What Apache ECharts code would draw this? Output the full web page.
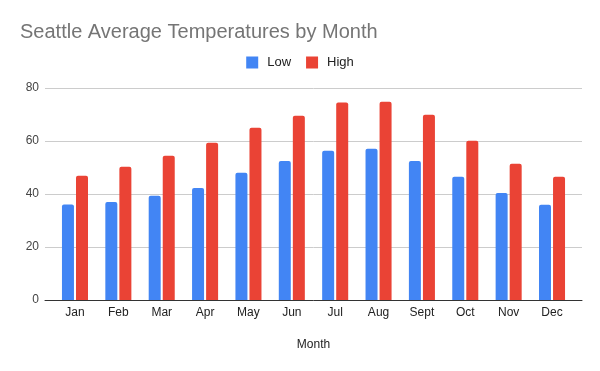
<!DOCTYPE html>
<html>
<head>
<meta charset="utf-8">
<script src="https://cdn.jsdelivr.net/npm/echarts@6/dist/echarts.min.js"></script>
<style>html,body{margin:0;padding:0;background:#fff}#c{width:600px;height:371px}</style>
</head>
<body>
<div id="c"></div>
<script>
const months = ['Jan','Feb','Mar','Apr','May','Jun','Jul','Aug','Sept','Oct','Nov','Dec'];
const lowTemps = [36, 37, 39.3, 42.3, 48, 52.5, 56.3, 57.1, 52.5, 46.5, 40.4, 35.9];
const highTemps = [46.9, 50.3, 54.4, 59.3, 65, 69.5, 74.5, 74.8, 69.9, 60.1, 51.4, 46.5];
const yTicks = {min: 0, max: 80, interval: 20};

const chart = echarts.init(document.getElementById('c'), null, {renderer: 'canvas'});
const font = 'Liberation Sans, Arial, sans-serif';
chart.setOption({
  animation: false,
  backgroundColor: '#fff',
  textStyle: {fontFamily: font},
  title: {
    text: 'Seattle Average Temperatures by Month',
    left: 15, top: 17,
    textStyle: {fontFamily: font, fontSize: 20, fontWeight: 'normal', color: '#757575'}
  },
  legend: {
    data: ['Low', 'High'],
    left: 'center', top: 51,
    itemWidth: 12, itemHeight: 12, itemGap: 15,
    icon: 'rect',
    textStyle: {fontFamily: font, fontSize: 13, color: '#222', padding: [0, 0, 0, 4]}
  },
  grid: [
    {left: 45, right: 18, top: 88, bottom: 71},
    {left: 53.3, right: 26.3, top: 88, bottom: 71}
  ],
  xAxis: [
    {
      type: 'category', gridIndex: 0, data: months,
      axisLine: {show: true, lineStyle: {color: '#333', width: 1}},
      axisTick: {show: false}, axisLabel: {show: false},
      name: 'Month', nameLocation: 'middle', nameGap: 39,
      nameTextStyle: {fontFamily: font, fontSize: 12, color: '#222'}
    },
    {
      type: 'category', gridIndex: 1, data: months,
      axisLine: {show: false}, axisTick: {show: false},
      axisLabel: {fontFamily: font, fontSize: 12, color: '#222', margin: 7}
    }
  ],
  yAxis: [
    {
      type: 'value', gridIndex: 0, min: yTicks.min, max: yTicks.max, interval: yTicks.interval,
      axisLine: {show: false}, axisTick: {show: false},
      axisLabel: {fontFamily: font, fontSize: 12, color: '#444', margin: 6},
      splitLine: {lineStyle: {color: '#ccc', width: 1}}
    },
    {
      type: 'value', gridIndex: 1, min: yTicks.min, max: yTicks.max, interval: yTicks.interval,
      show: false, splitLine: {show: false}
    }
  ],
  series: [
    {
      name: 'Low', type: 'bar', xAxisIndex: 1, yAxisIndex: 1, data: lowTemps,
      barWidth: 12, barGap: '17%',
      itemStyle: {color: '#4285F4', borderRadius: [2, 2, 0, 0]}
    },
    {
      name: 'High', type: 'bar', xAxisIndex: 1, yAxisIndex: 1, data: highTemps,
      barWidth: 12, barGap: '17%',
      itemStyle: {color: '#EA4335', borderRadius: [2, 2, 0, 0]}
    }
  ]
});
</script>
</body>
</html>
